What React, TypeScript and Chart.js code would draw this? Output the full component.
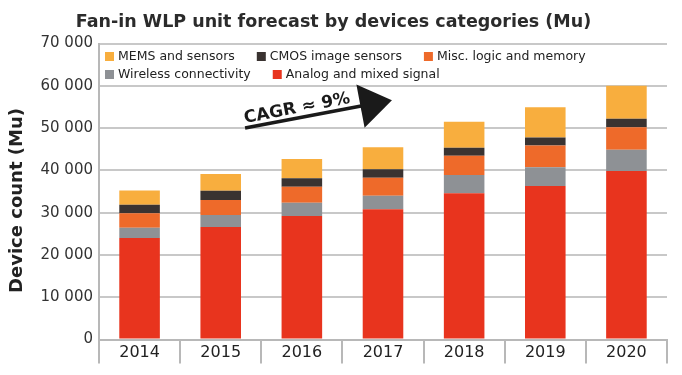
import React, { useEffect, useRef } from 'react';
import { Chart, registerables } from 'chart.js';

Chart.register(...registerables);

const years = ['2014', '2015', '2016', '2017', '2018', '2019', '2020'];
const analogMixed = [24000, 26600, 29200, 30800, 34600, 36300, 39850];
const wirelessConn = [2450, 2850, 3150, 3200, 4300, 4450, 5000];
const miscLogic = [3400, 3550, 3800, 4250, 4550, 5100, 5350];
const cmosImage = [2000, 2200, 2000, 2000, 1900, 1900, 2000];
const memsSensors = [3400, 3950, 4550, 5200, 6150, 7200, 7800];
const yMax = 70000;
const yStep = 10000;
const yTitle = 'Device count (Mu)';
const cagrText = 'CAGR ≈ 9%';
const cagrStart = { x: 1.3, y: 50000 };
const cagrTip = { x: 3.11, y: 56600 };

const FONT = '"DejaVu Sans", Verdana, sans-serif';

const fmt = (v: number) => String(v).replace(/\B(?=(\d{3})+(?!\d))/g, ' ');

const legendPlugin = {
  id: 'innerLegend',
  afterDraw(chart: any) {
    const ctx = chart.ctx;
    const area = chart.chartArea;
    const rows = [[4, 3, 2], [1, 0]];
    const rowY = [area.top + 13, area.top + 31];
    ctx.save();
    ctx.font = '12.5px ' + FONT;
    ctx.textBaseline = 'middle';
    rows.forEach((row, ri) => {
      let x = area.left + 6;
      row.forEach((di) => {
        const ds = chart.data.datasets[di];
        ctx.fillStyle = ds.backgroundColor;
        ctx.fillRect(x, rowY[ri] - 4.5, 9, 9);
        x += 13;
        ctx.fillStyle = '#222';
        ctx.fillText(ds.label, x, rowY[ri] + 0.5);
        x += ctx.measureText(ds.label).width + 22;
      });
    });
    // y axis title
    ctx.save();
    ctx.translate(17, (area.top + area.bottom) / 2 + 9);
    ctx.rotate(-Math.PI / 2);
    ctx.font = 'bold 18px ' + FONT;
    ctx.textAlign = 'center';
    ctx.textBaseline = 'middle';
    ctx.fillStyle = '#222';
    ctx.fillText(yTitle, 0, 0);
    ctx.restore();
    ctx.restore();
  },
};

const arrowPlugin = {
  id: 'cagrArrow',
  afterDatasetsDraw(chart: any) {
    const ctx = chart.ctx;
    const xs = chart.scales.x;
    const ys = chart.scales.y;
    const x0 = xs.getPixelForValue(cagrStart.x);
    const y0 = ys.getPixelForValue(cagrStart.y);
    const x1 = xs.getPixelForValue(cagrTip.x);
    const y1 = ys.getPixelForValue(cagrTip.y);
    const ang = Math.atan2(y1 - y0, x1 - x0);
    const len = Math.hypot(x1 - x0, y1 - y0);
    const head = 32;
    const half = 22;
    ctx.save();
    ctx.translate(x0, y0);
    ctx.rotate(ang);
    ctx.fillStyle = '#1a1a1a';
    ctx.strokeStyle = '#1a1a1a';
    ctx.lineWidth = 3.5;
    ctx.beginPath();
    ctx.moveTo(0, 0);
    ctx.lineTo(len - head + 2, 0);
    ctx.stroke();
    ctx.beginPath();
    ctx.moveTo(len - head, -half);
    ctx.lineTo(len, 0);
    ctx.lineTo(len - head, half);
    ctx.closePath();
    ctx.fill();
    ctx.font = 'bold 17px ' + FONT;
    ctx.textBaseline = 'alphabetic';
    ctx.fillText(cagrText, 1, -5);
    ctx.restore();
  },
};

export default function App() {
  const ref = useRef<HTMLCanvasElement>(null);
  useEffect(() => {
    if (!ref.current) return;
    const chart = new Chart(ref.current, {
      type: 'bar',
      data: {
        labels: years,
        datasets: [
          { label: 'Analog and mixed signal', data: analogMixed, backgroundColor: '#E8341E' },
          { label: 'Wireless connectivity', data: wirelessConn, backgroundColor: '#8E9195' },
          { label: 'Misc. logic and memory', data: miscLogic, backgroundColor: '#EE6A2A' },
          { label: 'CMOS image sensors', data: cmosImage, backgroundColor: '#3A3331' },
          { label: 'MEMS and sensors', data: memsSensors, backgroundColor: '#F8AE3E' },
        ],
      },
      options: {
        responsive: false,
        animation: false,
        devicePixelRatio: 1,
        layout: { padding: { left: 0, right: 15, top: 0, bottom: 0 } },
        datasets: { bar: { barPercentage: 0.5, categoryPercentage: 1 } },
        plugins: {
          legend: { display: false },
          tooltip: { enabled: false },
          title: {
            display: true,
            text: 'Fan-in WLP unit forecast by devices categories (Mu)',
            color: '#2b2b2b',
            font: { family: FONT, size: 17.5, weight: 'bold' },
            padding: { top: 12, bottom: 10.5 },
          },
        },
        scales: {
          x: {
            stacked: true,
            grid: {
              offset: true,
              drawOnChartArea: false,
              drawTicks: true,
              tickLength: 24,
              color: '#b8b8b8',
              lineWidth: 2,
            },
            border: { display: true, color: '#b8b8b8', width: 2 },
            ticks: {
              color: '#222',
              font: { family: FONT, size: 16 },
              padding: -20,
              maxRotation: 0,
            },
            afterFit: (s: any) => {
              s.height = 35.5;
            },
          },
          y: {
            stacked: true,
            min: 0,
            max: yMax,
            ticks: {
              stepSize: yStep,
              color: '#333',
              font: { family: FONT, size: 15 },
              padding: 6,
              callback: (v: any) => fmt(Number(v)),
            },
            grid: { color: '#c8c8c8', lineWidth: 2, drawTicks: false },
            border: { display: true, color: '#b8b8b8', width: 2 },
            title: { display: false },
            afterFit: (s: any) => {
              s.width = 99;
            },
          },
        },
      },
      plugins: [legendPlugin, arrowPlugin],
    } as any);
    return () => chart.destroy();
  }, []);
  return (
    <div style={{ position: 'absolute', left: 0, top: 0, width: 682, height: 375, background: '#fff' }}>
      <canvas ref={ref} width={682} height={375} />
    </div>
  );
}
